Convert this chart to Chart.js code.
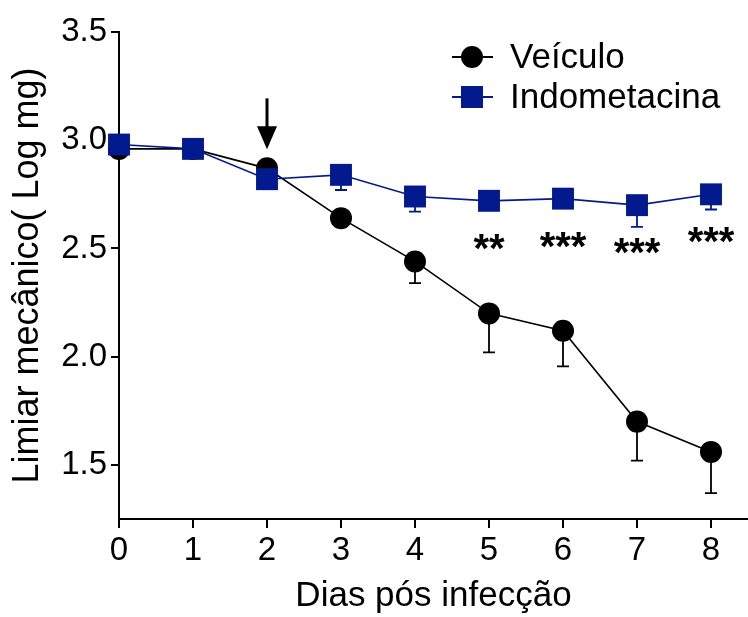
<!DOCTYPE html>
<html><head><meta charset="utf-8">
<script src="https://cdn.jsdelivr.net/npm/chart.js@4/dist/chart.umd.min.js"></script>
<style>html,body{margin:0;padding:0;background:#fff;overflow:hidden}#wrap{width:748px;height:617px;overflow:hidden}canvas{display:block}</style>
</head><body><div id="wrap"><canvas id="c" width="748" height="617" style="width:748px;height:617px"></canvas></div>
<script>
const days = [0, 1, 2, 3, 4, 5, 6, 7, 8];
const xTicks = [0, 1, 2, 3, 4, 5, 6, 7, 8];
const yTicks = [1.5, 2.0, 2.5, 3.0, 3.5];
const veiculoMean = [2.96, 2.96, 2.87, 2.64, 2.44, 2.20, 2.12, 1.70, 1.56];
const veiculoSem  = [0.02, 0.02, 0.02, 0.03, 0.10, 0.18, 0.165, 0.18, 0.19];
const indoMean = [2.98, 2.96, 2.82, 2.84, 2.74, 2.72, 2.73, 2.70, 2.75];
const indoSem  = [0.02, 0.02, 0.02, 0.07, 0.07, 0.03, 0.03, 0.10, 0.07];
const sigDays = [5, 6, 7, 8];
const sigLabels = ['**', '***', '***', '***'];
const arrowDay = 2;

const FAMILY = '"Liberation Sans", Arial, sans-serif';
const BLACK = '#000000';
const BLUE = '#031a8e';

function pts(means) { return days.map((d, i) => ({x: d, y: means[i]})); }

const errorBars = {
  id: 'errorBars',
  beforeDatasetsDraw(chart) {
    const ctx = chart.ctx, xs = chart.scales.x, ys = chart.scales.y;
    chart.data.datasets.forEach(ds => {
      ctx.save();
      ctx.strokeStyle = ds.borderColor;
      ctx.lineWidth = 1.8;
      ds.sem.forEach((s, i) => {
        const x = xs.getPixelForValue(days[i]);
        const y0 = ys.getPixelForValue(ds.data[i].y);
        const y1 = ys.getPixelForValue(ds.data[i].y - s);
        ctx.beginPath();
        ctx.moveTo(x, y0); ctx.lineTo(x, y1);
        ctx.moveTo(x - 6, y1); ctx.lineTo(x + 6, y1);
        ctx.stroke();
      });
      ctx.restore();
    });
  }
};

const annotations = {
  id: 'annotations',
  afterDatasetsDraw(chart) {
    const ctx = chart.ctx, xs = chart.scales.x, ys = chart.scales.y;
    ctx.save();
    ctx.fillStyle = BLACK;
    ctx.font = 'bold 40px ' + FAMILY;
    ctx.textAlign = 'center';
    ctx.textBaseline = 'alphabetic';
    sigDays.forEach((d, k) => {
      const i = days.indexOf(d);
      const x = xs.getPixelForValue(d);
      const cy = ys.getPixelForValue(indoMean[i]) + 41;
      const m = ctx.measureText(sigLabels[k]);
      const base = cy + (m.actualBoundingBoxAscent - m.actualBoundingBoxDescent) / 2;
      ctx.fillText(sigLabels[k], x, base);
    });
    const ai = days.indexOf(arrowDay);
    const ax = xs.getPixelForValue(arrowDay);
    const tip = ys.getPixelForValue(veiculoMean[ai]) - 19;
    ctx.strokeStyle = BLACK;
    ctx.lineWidth = 3;
    ctx.beginPath();
    ctx.moveTo(ax, tip - 51); ctx.lineTo(ax, tip - 20);
    ctx.stroke();
    ctx.beginPath();
    ctx.moveTo(ax - 10, tip - 23); ctx.lineTo(ax + 10, tip - 23); ctx.lineTo(ax, tip);
    ctx.closePath(); ctx.fill();
    ctx.restore();
  },
  afterDraw(chart) {
    const ctx = chart.ctx;
    ctx.save();
    const rows = [57, 97];
    chart.data.datasets.forEach((ds, k) => {
      const y = rows[k], cx = 472;
      ctx.strokeStyle = ds.borderColor; ctx.lineWidth = 1.8;
      ctx.beginPath(); ctx.moveTo(cx - 20, y); ctx.lineTo(cx + 21, y); ctx.stroke();
      ctx.fillStyle = ds.backgroundColor;
      if (ds.pointStyle === 'circle') {
        ctx.beginPath(); ctx.arc(cx, y, 11, 0, Math.PI * 2); ctx.fill();
      } else {
        ctx.fillRect(cx - 11, y - 11, 22, 22);
      }
      ctx.fillStyle = BLACK;
      ctx.font = '35px ' + FAMILY;
      ctx.textAlign = 'left'; ctx.textBaseline = 'middle';
      ctx.fillText(ds.label, 510, y + 1);
    });
    ctx.restore();
  }
};

new Chart(document.getElementById('c'), {
  type: 'line',
  data: {
    datasets: [
      { label: 'Veículo', data: pts(veiculoMean), sem: veiculoSem, order: 1,
        borderColor: BLACK, backgroundColor: BLACK, borderWidth: 1.6,
        pointStyle: 'circle', pointRadius: 11, pointHoverRadius: 11, pointBorderWidth: 0, clip: false },
      { label: 'Indometacina', data: pts(indoMean), sem: indoSem, order: 0,
        borderColor: BLUE, backgroundColor: BLUE, borderWidth: 1.6,
        pointStyle: 'rect', pointRadius: 15.5, pointHoverRadius: 15.5, pointBorderWidth: 0, clip: false }
    ]
  },
  options: {
    responsive: false, animation: false, devicePixelRatio: 1,
    layout: { autoPadding: false, padding: { top: 32, right: 0, bottom: 0, left: 0 } },
    plugins: { legend: { display: false }, tooltip: { enabled: false } },
    scales: {
      x: {
        type: 'linear', min: 0, max: 8.5,
        afterBuildTicks: s => { s.ticks = xTicks.map(v => ({value: v})); },
        afterFit: s => { s.height = 98; s.paddingRight = 0; s.paddingLeft = 0; },
        border: { color: BLACK, width: 2 },
        grid: { drawOnChartArea: false, drawTicks: true, tickLength: 9, color: BLACK, lineWidth: 2 },
        ticks: { color: BLACK, font: { family: FAMILY, size: 33 }, padding: 3, callback: v => String(v) },
        title: { display: true, text: 'Dias pós infecção', color: BLACK, font: { family: FAMILY, size: 35 }, padding: { top: 0, bottom: 0 } }
      },
      y: {
        type: 'linear', min: 1.25, max: 3.5,
        afterBuildTicks: s => { s.ticks = yTicks.map(v => ({value: v})); },
        afterFit: s => { s.width = 119; },
        border: { color: BLACK, width: 2 },
        grid: { drawOnChartArea: false, drawTicks: true, tickLength: 8, color: BLACK, lineWidth: 2 },
        ticks: { color: BLACK, font: { family: FAMILY, size: 33 }, padding: 4, callback: v => Number(v).toFixed(1) },
        title: { display: true, text: 'Limiar mecânico( Log mg)', color: BLACK, font: { family: FAMILY, size: 36 }, padding: { top: 6, bottom: 0 } }
      }
    }
  },
  plugins: [errorBars, annotations]
});
</script>
</body></html>
